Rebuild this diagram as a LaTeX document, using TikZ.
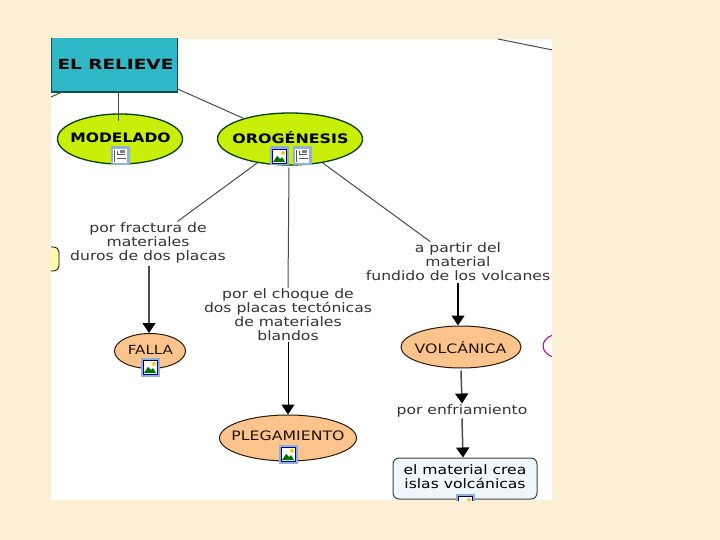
\documentclass[tikz,border=0pt]{standalone}
\usepackage{fontspec}
\setmainfont{DejaVu Sans}
\usetikzlibrary{shapes.geometric,arrows.meta}
\definecolor{paper}{HTML}{FBEFD6}
\definecolor{teal1}{HTML}{2FB9C6}
\definecolor{lime1}{HTML}{C9EE08}
\definecolor{peach}{HTML}{FBC48C}
\definecolor{pale}{HTML}{F0F7FB}
\definecolor{lineg}{HTML}{4A4A4A}
\definecolor{iconf}{HTML}{8FB0D8}
\tikzset{
  x=1pt,y=-1pt,
  mainell/.style={ellipse,draw=black!75!green,line width=1.3pt,fill=lime1,inner sep=0pt},
  subell/.style={ellipse,draw=black!80!brown,line width=1pt,fill=peach,inner sep=0pt},
  lbl/.style={align=center,font=\fontsize{13}{14}\selectfont,text=black!80,inner sep=1pt,xscale=1.2},
  ttl/.style={font=\fontsize{13}{15}\bfseries\selectfont,xscale=1.21},
  sub/.style={font=\fontsize{13}{15}\selectfont,xscale=1.21,text=black!85!brown},
  conn/.style={draw=lineg,line width=1pt},
  arr/.style={draw=black!70,line width=1.5pt,-{Triangle[length=10pt,width=13pt,color=black]}},
  pics/imgicon/.style={code={
    \fill[iconf] (-9.5,-9.5) rectangle (9.5,9.5);
    \fill[white] (-7,-7) rectangle (7,7);
    \fill[green!45!black] (-6,6) -- (-2,0) -- (1,3) -- (3,1) -- (6,6) -- cycle;
    \fill[yellow!60!orange] (4,-3) circle (2);
    \draw[black!50!blue,line width=.8pt] (-7,-7) rectangle (7,7);
  }},
  pics/docicon/.style={code={
    \fill[iconf] (-9.5,-9.5) rectangle (9.5,9.5);
    \fill[white] (-7,-7) rectangle (7,7);
    \draw[gray!70!black,line width=1pt] (-6,-6) -- (-6,6) (-3,-5) -- (-3,-1) -- (5,-1) (-3,3) -- (6,3);
    \fill[gray] (0,-6) rectangle (5,-3);
  }}
}
\begin{document}
\begin{tikzpicture}
\useasboundingbox (0,0) rectangle (720,540);
\fill[paper] (0,0) rectangle (720,540);
\fill[white] (51,39) rectangle (552,500);
\begin{scope}
\clip (51,39) rectangle (552,500);
\node[draw=black!60!teal1,line width=1.4pt,fill=teal1,minimum width=126pt,minimum height=62pt,inner sep=0pt] (releve) at (114.5,61) {};
\node[ttl,font=\fontsize{14}{15}\bfseries\selectfont,xscale=1.09] (relevet) at (115.5,64) {EL RELIEVE};
\node[mainell,minimum width=125pt,minimum height=50pt] (modelado) at (120,139) {};
\node[ttl,xscale=.99] (modelt) at (120.5,138) {MODELADO};
\node[mainell,minimum width=145pt,minimum height=52pt] (oro) at (290,139) {};
\node[ttl,xscale=1.01] (orot) at (290.5,138) {OROGÉNESIS};
\node[lbl] (fract) at (148,243) {por fractura de\\materiales\\duros de dos placas};
\node[lbl] (choque) at (288,315) {por el choque de\\dos placas tectónicas\\de materiales\\blandos};
\node[lbl] (partir) at (458,262) {a partir del\\material\\fundido de los volcanes};
\node[lbl] (enfr) at (462,411) {por enfriamiento};
\node[subell,minimum width=71pt,minimum height=35pt] (falla) at (150,351) {};
\node[sub,font=\fontsize{12.5}{15}\selectfont] (fallat) at (150.5,350) {FALLA};
\node[subell,minimum width=120pt,minimum height=42pt] (volc) at (461,347) {};
\node[sub] (volct) at (460.5,348) {VOLCÁNICA};
\node[subell,minimum width=137pt,minimum height=46pt] (pleg) at (288,438) {};
\node[sub] (plegt) at (288,436) {PLEGAMIENTO};
\node[draw=black!75,line width=1pt,rounded corners=6pt,fill=pale,minimum width=144pt,minimum height=41pt,inner sep=0pt] (crea) at (465,478.5) {};
\node[lbl,text=black] (creat) at (465,477) {el material crea\\islas volcánicas};
\node[draw=black,line width=.8pt,rounded corners=5pt,fill=yellow!35,minimum width=30pt,minimum height=24pt] (yel) at (44,259) {};
\node[ellipse,draw=violet!70!magenta,line width=1pt,fill=white,minimum width=30pt,minimum height=23pt,inner sep=0pt] (purp) at (558,346) {};
\coordinate (tl) at (498,39);
\coordinate (tr) at (560,51.5);
\coordinate (ll) at (62,92);
\coordinate (lr) at (40,102);
\draw[conn] (tl) -- (tr);
\draw[conn] (ll) -- (lr);
\draw[conn] (releve.south -| modelado) ++(-2,0) -- ++(0,28);
\draw[conn] (releve) -- (oro);
\draw[conn] (oro) -- (fract);
\draw[conn] (oro.south) ++(-1,2) -- (choque.north);
\draw[conn] (oro) -- (partir);
\draw[arr] (fract.south -| falla) ++(-1,2) -- (falla.north -| 149,0);
\draw[arr,line width=1pt,draw=black] (choque.south) -- (pleg.north);
\draw[arr,draw=black] (partir.south) ++(0,1) -- (volc.north -| 458,0);
\draw[arr] (volc.south) ++(0,2) -- (enfr.north);
\draw[arr] (enfr.south) -- (crea.north -| 463,0);
\pic at (120,156) {docicon};
\pic at (279,156) {imgicon};
\pic at (302,156) {docicon};
\pic at (150,367) {imgicon};
\pic at (288,454) {imgicon};
\pic at (465,503) {imgicon};
\end{scope}
\end{tikzpicture}
\end{document}
